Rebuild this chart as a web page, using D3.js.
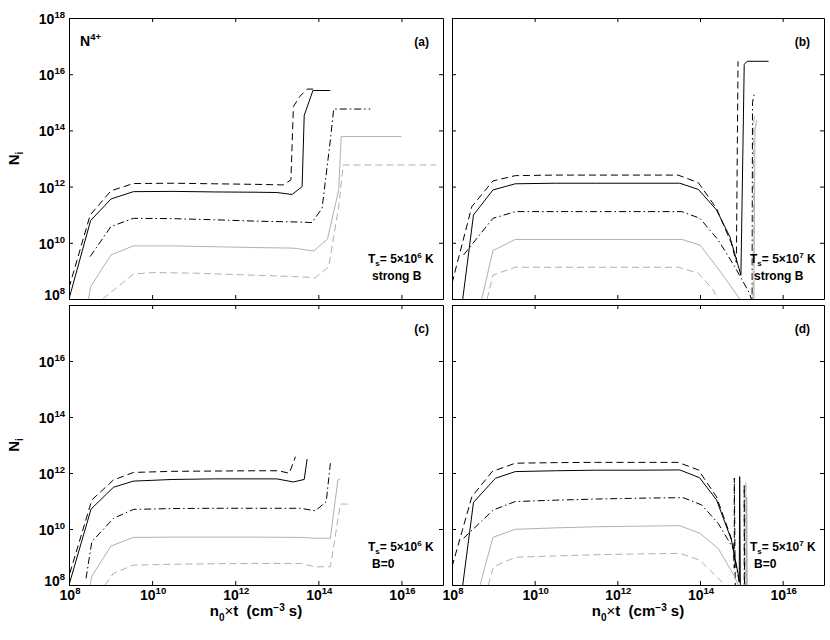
<!DOCTYPE html>
<html>
<head>
<meta charset="utf-8">
<script src="https://cdn.jsdelivr.net/npm/d3@7"></script>
<style>
  body { margin: 0; background: #fff; }
  text { font-family: Arial, "Liberation Sans", Helvetica, sans-serif; font-weight: bold; fill: #000; white-space: pre; }
</style>
</head>
<body>
<svg id="chart" width="830" height="640"></svg>
<script>
// exponents (log10) of the ticks
const xTicks = [8, 10, 12, 14, 16];
const yTicksTop = [8, 10, 12, 14, 16, 18];
const yTicksBottom = [8, 10, 12, 14, 16];
const xDomain = [8, 17];
const yDomain = [8, 18];

// series values as [log10(n0*t), log10(Ni)]
// order: solid black, dashed black, dash-dot black, solid gray, dashed gray
const aSolid = [[8,8],[8.52,10.79],[9.01,11.56],[9.55,11.82],[10.5,11.83],[11.5,11.81],[12.5,11.8],[13.0,11.79],[13.37,11.72],[13.61,12.0],[13.66,14.53],[13.87,15.42],[14.29,15.42]];
const aDash = [[8,8.4],[8.51,10.99],[9.01,11.85],[9.55,12.11],[10.5,12.12],[11.5,12.1],[12.5,12.08],[13.16,12.06],[13.34,12.24],[13.4,14.85],[13.55,15.2],[13.73,15.47],[13.89,15.47]];
const aDashDot = [[8.51,9.51],[9.01,10.58],[9.55,10.87],[10.5,10.86],[11.5,10.82],[12.5,10.77],[13.5,10.74],[13.85,10.72],[14.09,11.23],[14.29,13.66],[14.37,14.76],[15.25,14.76]];
const aGray = [[8.47,8],[8.52,8.44],[9.01,9.57],[9.55,9.89],[10.5,9.89],[11.5,9.86],[12.5,9.83],[13.4,9.81],[13.89,9.71],[14.22,10.13],[14.49,11.88],[14.55,13.78],[16.0,13.78]];
const aGrayDash = [[8.81,8],[9.03,8.26],[9.55,8.89],[10.03,8.94],[11,8.92],[12,8.87],[13.4,8.8],[13.93,8.76],[14.25,9.15],[14.49,11.29],[14.6,12.77],[16.84,12.77]];

const bSolid = [[8.26,8],[8.52,10.99],[8.99,11.88],[9.53,12.1],[10.5,12.12],[11.5,12.12],[12.5,12.12],[13.51,12.12],[13.96,11.9],[14.4,11.17],[14.72,10.22],[14.99,8.85],[15.07,16.35],[15.14,16.46],[15.66,16.46]];
const bDash = [[8.0,8.56],[8.48,11.29],[8.99,12.2],[9.53,12.39],[10.5,12.41],[11.5,12.41],[12.5,12.41],[13.47,12.41],[13.96,12.14],[14.4,11.22],[14.76,9.98],[14.88,9.3],[14.92,16.46]];
const bDashDot = [[8.28,9.57],[8.99,10.87],[9.53,11.11],[10.5,11.11],[11.5,11.11],[12.5,11.11],[13.56,11.11],[14.0,10.87],[14.44,10.1],[14.84,9.15],[15.2,8.2],[15.26,7.9],[15.27,15.0],[15.31,15.27]];
const bGray = [[8.72,8],[8.99,9.72],[9.53,10.12],[10.5,10.12],[11.5,10.12],[12.5,10.12],[13.56,10.12],[14.0,9.92],[14.52,8.92],[14.96,8.0],[15.1,7],[15.3,7],[15.33,14.0],[15.37,14.36]];
const bGrayDash = [[8.85,8],[8.99,8.85],[9.53,9.13],[10.5,9.13],[11.5,9.13],[12.5,9.13],[13.47,9.13],[13.96,8.92],[14.32,8.32],[14.5,7.8],[15.0,7],[15.28,7],[15.3,14.3],[15.33,14.6]];

const cSolid = [[8,8],[8.53,10.71],[9.07,11.49],[9.55,11.71],[10.5,11.77],[11.5,11.79],[12.5,11.79],[13.0,11.79],[13.4,11.68],[13.66,11.77],[13.73,12.5]];
const cDash = [[8.02,8.42],[8.55,11.04],[9.07,11.75],[9.55,12.02],[10.5,12.06],[11.5,12.07],[12.5,12.08],[13.04,12.08],[13.3,11.99],[13.45,12.58]];
const cDashDot = [[8.41,8.24],[8.55,9.55],[9.07,10.38],[9.55,10.7],[10.5,10.73],[11.5,10.74],[12.5,10.74],[13.57,10.74],[13.93,10.65],[14.19,10.98],[14.29,12.35]];
const cGray = [[8.51,8],[8.55,8.32],[9.01,9.39],[9.55,9.7],[10.5,9.71],[11.5,9.71],[12.5,9.71],[13.6,9.7],[13.93,9.67],[14.29,9.67],[14.47,11.75],[14.52,11.79]];
const cGrayDash = [[8.87,8],[9.07,8.42],[9.55,8.71],[10.5,8.74],[11.5,8.76],[12.5,8.77],[13.57,8.77],[13.93,8.65],[14.29,8.65],[14.53,10.89],[14.73,10.89]];

const dSolid = [[8.26,8],[8.52,10.95],[9.05,11.81],[9.53,12.05],[10.5,12.08],[11.5,12.1],[12.5,12.1],[13.51,12.11],[13.99,11.83],[14.4,11.04],[14.76,9.61],[14.92,8.42],[14.95,8.1],[14.96,11.87],[14.98,7]];
const dDash = [[8.0,8.65],[8.48,11.15],[8.97,12.05],[9.53,12.35],[10.5,12.37],[11.5,12.38],[12.5,12.38],[13.47,12.38],[13.96,12.11],[14.4,11.15],[14.8,9.49],[14.83,8.6],[14.83,11.82],[14.86,7]];
const dDashDot = [[8.28,9.67],[9.0,10.68],[9.53,10.98],[10.5,11.03],[11.5,11.07],[12.5,11.1],[13.59,11.12],[14.04,10.86],[14.44,10.2],[14.8,9.31],[14.92,8.32],[15.0,7.8],[15.07,7.5],[15.07,11.6],[15.08,7]];
const dGray = [[8.68,8],[8.99,9.7],[9.53,9.99],[10.5,10.04],[11.5,10.08],[12.5,10.1],[13.51,10.12],[13.99,9.85],[14.44,9.31],[14.84,8.3],[14.92,8],[15.0,7],[15.12,7],[15.13,11.14],[15.15,7]];
const dGrayDash = [[8.88,8],[9.0,8.65],[9.53,8.99],[10.5,9.04],[11.5,9.08],[12.5,9.11],[13.51,9.13],[13.99,8.89],[14.4,8.3],[14.6,8.0],[14.8,7],[15.1,7],[15.11,11.68],[15.12,7]];

const styles = [
  { color: '#000', dash: null },
  { color: '#000', dash: '7,4' },
  { color: '#000', dash: '7,3,1.5,3' },
  { color: '#b0b0b0', dash: null },
  { color: '#b0b0b0', dash: '7,4' }
];

const panels = [
  { key: 'a', box: [69, 443, 18, 299], series: [aSolid, aDash, aDashDot, aGray, aGrayDash], label: '(a)', ts: '6', cond: 'strong B', yt: yTicksTop, yLab: true, xLab: false },
  { key: 'b', box: [452, 824, 18, 299], series: [bSolid, bDash, bDashDot, bGray, bGrayDash], label: '(b)', ts: '7', cond: 'strong B', yt: yTicksTop, yLab: false, xLab: false },
  { key: 'c', box: [69, 443, 305, 585], series: [cSolid, cDash, cDashDot, cGray, cGrayDash], label: '(c)', ts: '6', cond: 'B=0', yt: yTicksBottom, yLab: true, xLab: true },
  { key: 'd', box: [452, 824, 305, 585], series: [dSolid, dDash, dDashDot, dGray, dGrayDash], label: '(d)', ts: '7', cond: 'B=0', yt: yTicksBottom, yLab: false, xLab: true }
];

const svg = d3.select('#chart');

function supText(g, x, y, base, exp, size, anchor) {
  const t = g.append('text').attr('x', x).attr('y', y)
    .attr('text-anchor', anchor).style('font-size', size + 'px');
  t.append('tspan').text(base);
  t.append('tspan').attr('dy', -size * 0.45).style('font-size', (size * 0.68) + 'px').text(exp);
  return t;
}

panels.forEach(p => {
  const [x0, x1, y0, y1] = p.box;
  const x = d3.scaleLog().domain(xDomain.map(e => 10 ** e)).range([x0, x1]);
  const y = d3.scaleLog().domain(yDomain.map(e => 10 ** e)).range([y1, y0]);
  const g = svg.append('g');
  const top = p.key === 'a' || p.key === 'b';
  const left = p.key === 'a' || p.key === 'c';

  g.append('clipPath').attr('id', 'clip-' + p.key)
    .append('rect').attr('x', x0).attr('y', y0).attr('width', x1 - x0).attr('height', y1 - y0);

  const line = d3.line().x(d => x(10 ** d[0])).y(d => y(10 ** d[1]));
  p.series.forEach((s, i) => {
    g.append('path').datum(s)
      .attr('clip-path', 'url(#clip-' + p.key + ')')
      .attr('d', line)
      .attr('fill', 'none')
      .attr('stroke', styles[i].color)
      .attr('stroke-width', 1)
      .attr('stroke-dasharray', styles[i].dash);
  });

  const xv = xTicks.map(e => 10 ** e);
  const yv = yTicksTop.map(e => 10 ** e);
  const axes = [
    [d3.axisBottom(x).tickValues(xv), `translate(0,${y1})`],
    [d3.axisTop(x).tickValues(xv), `translate(0,${y0})`],
    [d3.axisLeft(y).tickValues(yv), `translate(${x0},0)`],
    [d3.axisRight(y).tickValues(yv), `translate(${x1},0)`]
  ];
  axes.forEach(([ax, tr]) => {
    g.append('g').attr('transform', tr)
      .call(ax.tickSizeInner(-4).tickSizeOuter(0).tickFormat(''))
      .call(a => a.selectAll('path, line').attr('stroke', '#000').attr('stroke-width', 1));
  });

  if (p.yLab) {
    p.yt.forEach(e => {
      const yy = y(10 ** e) + (e === 8 ? 1 : 6);
      supText(g, x0 - 4, yy, '10', e, 14, 'end');
    });
    const ny = g.append('text')
      .attr('transform', `translate(19,${(y0 + y1) / 2}) rotate(-90)`)
      .attr('text-anchor', 'middle').style('font-size', '15px');
    ny.append('tspan').text('N');
    ny.append('tspan').attr('dy', 4).style('font-size', '10px').text('i');
  }
  if (p.xLab) {
    xTicks.forEach(e => {
      supText(g, x(10 ** e) + 1, y1 + 15, '10', e, 14, 'middle');
    });
    const xl = g.append('text').attr('x', (x0 + x1) / 2).attr('y', y1 + 31)
      .attr('text-anchor', 'middle').style('font-size', '15px');
    xl.append('tspan').text('n');
    xl.append('tspan').attr('dy', 5).style('font-size', '10px').text('0');
    xl.append('tspan').attr('dy', -5).style('font-weight', 'normal').text('\u00d7');
    xl.append('tspan').text('t  (cm');
    xl.append('tspan').attr('dy', -5).style('font-size', '10px').text('\u22123');
    xl.append('tspan').attr('dy', 5).text(' s)');
  }

  // panel letter
  g.append('text').attr('x', x1 - 14).attr('y', y0 + 28)
    .attr('text-anchor', 'end').style('font-size', '12px').text(p.label);

  // temperature / field annotation
  const tx = left ? 368 : 750;
  const ty = y1 - (top ? 36 : 34);
  const ta = g.append('text').attr('x', tx).attr('y', ty).style('font-size', '12px');
  ta.append('tspan').text('T');
  ta.append('tspan').attr('dy', 3).style('font-size', '8px').text('s');
  ta.append('tspan').attr('dy', -3).text('= 5\u00d710');
  ta.append('tspan').attr('dy', -5).style('font-size', '8px').text(p.ts);
  ta.append('tspan').attr('dy', 5).text(' K');
  g.append('text').attr('x', tx + 4).attr('y', ty + (top ? 17 : 17))
    .style('font-size', '12px').text(p.cond);

  if (p.key === 'a') {
    supText(g, x0 + 11, y0 + 28, 'N', '4+', 14, 'start');
  }
});
</script>
</body>
</html>
